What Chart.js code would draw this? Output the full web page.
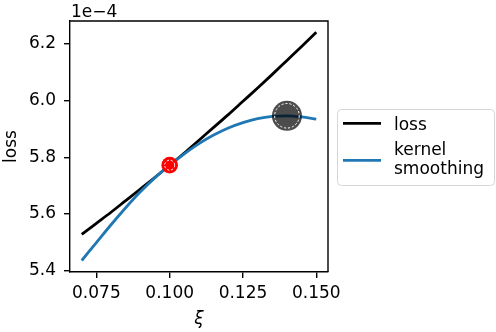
<!DOCTYPE html>
<html><head><meta charset="utf-8">
<script src="https://cdn.jsdelivr.net/npm/chart.js@4/dist/chart.umd.min.js"></script>
<style>html,body{margin:0;padding:0;background:#fff;overflow:hidden}canvas{display:block}</style>
</head><body>
<canvas id="c" width="496" height="332"></canvas>
<script>
// ---- data (loss values in units of 1e-4) ----
const xi = [0.070,0.075,0.080,0.085,0.090,0.095,0.100,0.105,0.110,0.115,0.120,0.125,0.130,0.135,0.140,0.145,0.150];
const lossValues = [5.528,5.567,5.606,5.647,5.688,5.729,5.772,5.815,5.860,5.905,5.950,5.997,6.044,6.092,6.141,6.190,6.240];
const smoothValues = [5.436,5.499,5.562,5.622,5.678,5.728,5.772,5.812,5.848,5.878,5.903,5.922,5.936,5.944,5.946,5.942,5.934];
const tangentPoint = [0.100, 5.772];
const peakPoint = [0.140, 5.946];
const xTicks = [0.075, 0.100, 0.125, 0.150];
const yTicks = [5.4, 5.6, 5.8, 6.0, 6.2];
const seriesNames = ['loss', 'kernel smoothing'];
const legendLines = [['loss'], ['kernel', 'smoothing']];
const offsetLabel = '1e\u22124';
const xTitle = '\u03BE';
const yTitle = 'loss';

const FONT = 'DejaVu Sans';
const BLUE = '#1f77b4';
const LW = 2.8;

const toXY = (xs, ys) => xs.map((x, i) => ({x, y: ys[i]}));

const extras = {
  id: 'extras',
  afterDatasetsDraw(chart) {
    const ctx = chart.ctx, xs = chart.scales.x, ys = chart.scales.y;
    ctx.save();
    ctx.strokeStyle = '#ffffff';
    ctx.lineWidth = 1;
    ctx.setLineDash([2.2, 1.8]);
    [[tangentPoint, 5], [peakPoint, 12.3]].forEach(([p, r]) => {
      ctx.beginPath();
      ctx.arc(xs.getPixelForValue(p[0]), ys.getPixelForValue(p[1]), r, 0, Math.PI * 2);
      ctx.stroke();
    });
    ctx.restore();
  },
  afterDraw(chart) {
    const ctx = chart.ctx, a = chart.chartArea;
    ctx.save();
    // top & right spines
    ctx.strokeStyle = '#000';
    ctx.lineWidth = 1.4;
    ctx.beginPath();
    ctx.moveTo(a.left, a.top); ctx.lineTo(a.right, a.top); ctx.lineTo(a.right, a.bottom);
    ctx.stroke();
    // offset text
    ctx.fillStyle = '#000';
    ctx.font = '17px "' + FONT + '"';
    ctx.textAlign = 'left';
    ctx.textBaseline = 'alphabetic';
    ctx.fillText(offsetLabel, a.left + 1, 16.5);
    // legend
    const lx = 337, ly = 109, lw = 158, lh = 77, rr = 4;
    ctx.beginPath();
    ctx.roundRect(lx + 0.5, ly + 0.5, lw - 1, lh - 1, rr);
    ctx.fillStyle = 'rgba(255,255,255,0.8)';
    ctx.fill();
    ctx.strokeStyle = 'rgba(204,204,204,0.8)';
    ctx.lineWidth = 1;
    ctx.stroke();
    const colors = ['#000', BLUE];
    const sampleY = [123.3, 160.3];
    const baselines = [[129.5], [155.3, 174.3]];
    for (let i = 0; i < seriesNames.length; i++) {
      ctx.strokeStyle = colors[i];
      ctx.lineWidth = LW;
      ctx.beginPath();
      ctx.moveTo(343, sampleY[i]); ctx.lineTo(381, sampleY[i]);
      ctx.stroke();
      ctx.fillStyle = '#000';
      legendLines[i].forEach((t, j) => ctx.fillText(t, 394, baselines[i][j]));
    }
    ctx.restore();
  }
};

new Chart(document.getElementById('c'), {
  type: 'line',
  data: {
    datasets: [
      {label: seriesNames[0], data: toXY(xi, lossValues), borderColor: '#000', borderWidth: LW,
       pointRadius: 0, cubicInterpolationMode: 'monotone', order: 3},
      {label: seriesNames[1], data: toXY(xi, smoothValues), borderColor: BLUE, borderWidth: LW,
       pointRadius: 0, cubicInterpolationMode: 'monotone', order: 2},
      {label: 'tangent', data: [{x: tangentPoint[0], y: tangentPoint[1]}], showLine: false,
       pointRadius: 8.3, pointBackgroundColor: '#ff0000', pointBorderWidth: 0, order: 1},
      {label: 'peak', data: [{x: peakPoint[0], y: peakPoint[1]}], showLine: false,
       pointRadius: 15, pointBackgroundColor: 'rgba(0,0,0,0.7)', pointBorderWidth: 0, order: 0}
    ]
  },
  options: {
    responsive: false, animation: false, events: [],
    devicePixelRatio: 1,
    layout: {padding: {left: 0, right: 168, top: 21, bottom: 0}},
    plugins: {legend: {display: false}, tooltip: {enabled: false}},
    scales: {
      x: {
        type: 'linear', min: 0.066, max: 0.154,
        afterBuildTicks: s => { s.ticks = xTicks.map(v => ({value: v})); },
        afterFit: s => { s.height = 60; },
        grid: {display: true, drawOnChartArea: false, drawTicks: true, tickLength: 6, color: '#000', lineWidth: 1.4},
        border: {display: true, color: '#000', width: 1.4},
        ticks: {color: '#000', font: {family: FONT, size: 17}, padding: 5, maxRotation: 0,
                callback: v => v.toFixed(3)},
        title: {display: true, text: xTitle, color: '#000', font: {family: FONT, size: 17, style: 'italic'},
                padding: {top: 0, bottom: 2.5}}
      },
      y: {
        type: 'linear', min: 5.3955, max: 6.28,
        afterBuildTicks: s => { s.ticks = yTicks.map(v => ({value: v})); },
        afterFit: s => { s.width = 70; },
        grid: {display: true, drawOnChartArea: false, drawTicks: true, tickLength: 6, color: '#000', lineWidth: 1.4},
        border: {display: true, color: '#000', width: 1.4},
        ticks: {color: '#000', font: {family: FONT, size: 17}, padding: 8,
                callback: v => v.toFixed(1)},
        title: {display: true, text: yTitle, color: '#000', font: {family: FONT, size: 17},
                padding: {top: 1.5, bottom: 0}}
      }
    }
  },
  plugins: [extras]
});
</script>
</body></html>
